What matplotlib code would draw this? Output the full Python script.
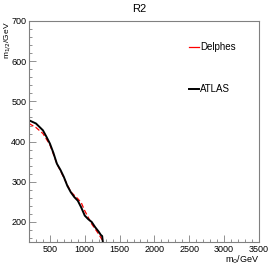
import matplotlib
matplotlib.use("Agg")
import matplotlib.pyplot as plt
from matplotlib.ticker import MultipleLocator

plt.rcParams['font.family'] = ['Liberation Sans', 'DejaVu Sans']

# ATLAS exclusion contour
atlas_m0 = [200, 300, 400, 450, 500, 550, 600, 650, 700, 750, 800, 850, 900,
            950, 1000, 1050, 1100, 1150, 1200, 1230, 1250, 1260]
atlas_m12 = [453, 445, 428, 412, 395, 372, 345, 330, 312, 290, 274, 262, 253,
             236, 216, 207, 200, 187, 176, 168, 165, 150]

# Delphes contour
delphes_m0 = [200, 300, 400, 500, 600, 700, 800, 900, 950, 1000, 1100, 1200, 1270]
delphes_m12 = [445, 435, 420, 392, 345, 310, 275, 258, 248, 228, 195, 170, 150]

fig = plt.figure(figsize=(2.79, 2.69), dpi=100)
ax = fig.add_axes([0.104, 0.100, 0.824, 0.822])

ax.plot(delphes_m0, delphes_m12, color='red', lw=0.9, ls=(0, (4, 2)))
ax.plot(atlas_m0, atlas_m12, color='black', lw=1.4)

ax.set_xlim(200, 3500)
ax.set_ylim(150, 700)
ax.xaxis.set_major_locator(MultipleLocator(500))
ax.xaxis.set_minor_locator(MultipleLocator(100))
ax.yaxis.set_major_locator(MultipleLocator(100))
ax.yaxis.set_minor_locator(MultipleLocator(20))
ax.tick_params(which='both', direction='in', top=False, right=False,
               labelsize=6.5, color='gray', pad=2)
ax.tick_params(which='major', length=5, width=0.6)
ax.tick_params(which='minor', length=2.5, width=0.6)
for s in ax.spines.values():
    s.set_color('gray')
    s.set_linewidth(0.8)

fig.text(0.5, 0.985, "R2", ha='center', va='top', fontsize=8)
ax.set_xlabel(r"m$_0$/GeV", fontsize=6.5, loc='right', labelpad=0)
ax.set_ylabel(r"m$_{1/2}$/GeV", fontsize=6, loc='top')
ax.yaxis.set_label_coords(-0.068, 1.0)

# legend-like labels
ax.plot([0.696, 0.74], [0.882, 0.882], color='red', lw=0.9, transform=ax.transAxes)
ax.text(0.745, 0.882, "Delphes", fontsize=7, va='center', transform=ax.transAxes)
ax.plot([0.696, 0.74], [0.692, 0.692], color='black', lw=1.4, transform=ax.transAxes)
ax.text(0.745, 0.692, "ATLAS", fontsize=7, va='center', transform=ax.transAxes)

fig.savefig("out.png", dpi=100)
